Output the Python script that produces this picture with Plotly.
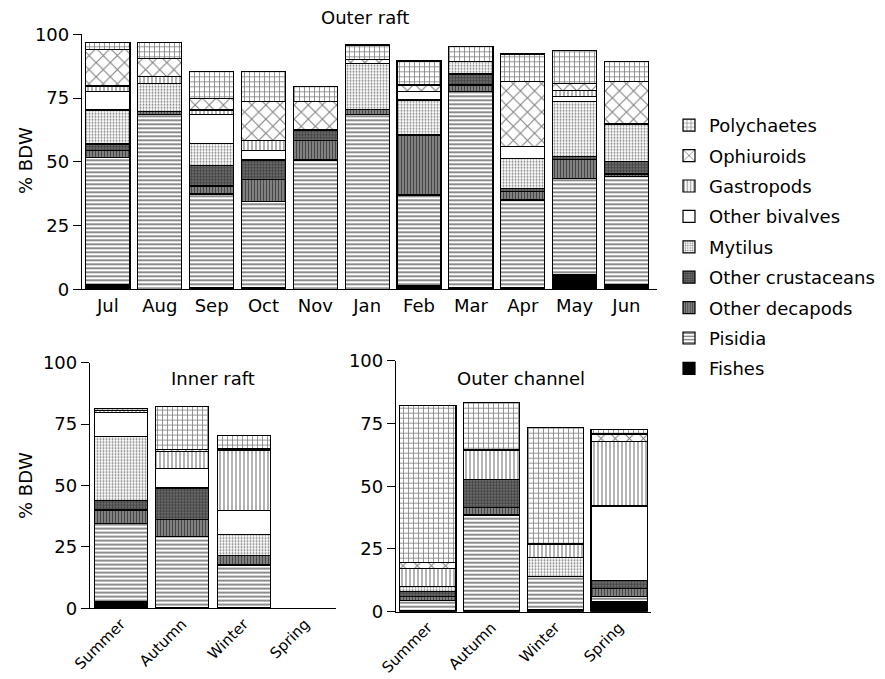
import plotly.graph_objects as go

months = ["Jul", "Aug", "Sep", "Oct", "Nov", "Jan", "Feb", "Mar", "Apr", "May", "Jun"]
seasons = ["Summer", "Autumn", "Winter", "Spring"]
groups = ["Fishes", "Pisidia", "Other decapods", "Other crustaceans", "Mytilus",
          "Other bivalves", "Gastropods", "Ophiuroids", "Polychaetes"]

# Outer raft (% BDW), per month
outer_raft = {
    "Fishes":            [1.7, 0.0, 0.5, 0.5, 0.0, 0.0, 1.5, 0.5, 0.5, 5.6, 1.7],
    "Pisidia":           [49.9, 68.5, 36.9, 33.9, 50.7, 68.4, 35.5, 77.0, 34.5, 37.9, 42.5],
    "Other decapods":    [2.8, 1.2, 3.1, 8.7, 7.8, 2.2, 23.5, 2.6, 3.3, 7.5, 1.0],
    "Other crustaceans": [2.6, 0.0, 8.2, 7.6, 4.0, 0.0, 0.0, 4.3, 1.3, 1.0, 4.8],
    "Mytilus":           [13.3, 11.1, 8.6, 0.0, 0.0, 18.0, 13.7, 4.8, 11.8, 21.6, 14.8],
    "Other bivalves":    [7.2, 0.0, 11.1, 3.7, 0.0, 0.0, 3.3, 0.0, 4.5, 1.9, 0.0],
    "Gastropods":        [2.2, 2.8, 1.9, 3.9, 0.0, 0.0, 0.0, 0.0, 0.0, 2.4, 0.0],
    "Ophiuroids":        [14.4, 7.0, 4.6, 15.3, 11.1, 1.6, 2.6, 0.0, 25.5, 2.9, 16.6],
    "Polychaetes":       [2.6, 6.1, 10.4, 11.7, 5.9, 5.6, 9.4, 5.9, 10.9, 13.0, 7.9],
}

# Inner raft (% BDW), per season
inner_raft = {
    "Fishes":            [2.7, 0.3, 0.3, 0.0],
    "Pisidia":           [31.9, 28.8, 17.3, 0.0],
    "Other decapods":    [5.4, 7.1, 3.8, 0.0],
    "Other crustaceans": [3.8, 12.8, 0.0, 0.0],
    "Mytilus":           [26.0, 0.0, 8.6, 0.0],
    "Other bivalves":    [9.8, 7.9, 9.7, 0.0],
    "Gastropods":        [1.0, 7.0, 24.7, 0.0],
    "Ophiuroids":        [0.0, 0.6, 0.6, 0.0],
    "Polychaetes":       [0.7, 17.5, 5.2, 0.0],
}

# Outer channel (% BDW), per season
outer_channel = {
    "Fishes":            [0.5, 0.5, 1.0, 4.0],
    "Pisidia":           [4.0, 38.0, 13.0, 2.0],
    "Other decapods":    [1.5, 3.1, 0.0, 3.3],
    "Other crustaceans": [2.0, 11.1, 0.0, 3.1],
    "Mytilus":           [2.0, 0.0, 7.7, 0.0],
    "Other bivalves":    [0.0, 0.0, 0.0, 29.7],
    "Gastropods":        [7.3, 11.7, 5.3, 25.6],
    "Ophiuroids":        [2.2, 0.0, 0.0, 3.1],
    "Polychaetes":       [62.5, 18.9, 46.3, 1.9],
}

styles = {
    "Fishes":            dict(color="black", shape="", bg="black", size=8, sol=0.3),
    "Pisidia":           dict(color="white", shape="-", bg="white", size=4, sol=0.45),
    "Other decapods":    dict(color="#8c8c8c", shape="|", bg="#8c8c8c", size=3, sol=0.45),
    "Other crustaceans": dict(color="#7a7a7a", shape=".", bg="#7a7a7a", size=3, sol=0.55),
    "Mytilus":           dict(color="white", shape=".", bg="white", size=3, sol=0.35),
    "Other bivalves":    dict(color="white", shape="", bg="white", size=8, sol=0.3),
    "Gastropods":        dict(color="white", shape="|", bg="white", size=4, sol=0.3),
    "Ophiuroids":        dict(color="white", shape="x", bg="white", size=10, sol=0.2),
    "Polychaetes":       dict(color="white", shape="+", bg="white", size=5, sol=0.3),
}

FONT = "DejaVu Sans, Liberation Sans, Arial, sans-serif"
FS = 18
fig = go.Figure()

panels = [
    (months, outer_raft, "x", "y", 0.85),
    (seasons, inner_raft, "x2", "y2", 0.866),
    (seasons, outer_channel, "x3", "y3", 0.88),
]

for pi, (cats, data, xa, ya, w) in enumerate(panels):
    for gi, g in enumerate(groups):
        s = styles[g]
        pat = dict(shape=s["shape"], fgcolor="black", bgcolor=s["bg"],
                   size=s["size"], solidity=s["sol"], fillmode="overlay")
        fig.add_trace(go.Bar(
            x=cats, y=data[g], name=g, xaxis=xa, yaxis=ya, width=w,
            marker=dict(color=s["color"], line=dict(color="black", width=1.2), pattern=pat),
            showlegend=(pi == 0), legendgroup=g, legendrank=100 - gi,
        ))

axis_common = dict(showline=True, linecolor="black", linewidth=1.3, showgrid=False,
                   zeroline=False, automargin=False,
                   tickfont=dict(family=FONT, size=FS, color="black"))
yax_common = dict(axis_common, range=[0, 100], tickvals=[0, 25, 50, 75, 100],
                  ticks="outside", ticklen=8, tickwidth=1.3, tickcolor="black")
rot_font = dict(family=FONT, size=15, color="black")

H = 679.0
W = 885.0


def ann(text, x, y, angle=0):
    return dict(text=text, x=x / W, y=1 - y / H, xref="paper", yref="paper",
                xanchor="center", yanchor="middle", showarrow=False, textangle=angle,
                font=dict(family=FONT, size=FS))


fig.update_layout(
    template="none",
    width=885, height=679,
    margin=dict(l=0, r=0, t=0, b=0, pad=0),
    paper_bgcolor="white", plot_bgcolor="white",
    barmode="stack",
    font=dict(family=FONT, size=FS, color="black"),
    xaxis=dict(axis_common, domain=[82 / W, 657 / W], range=[-0.5, 10.59], anchor="y",
               ticks=""),
    yaxis=dict(yax_common, domain=[(H - 289.3) / H, (H - 34.3) / H], anchor="x"),
    xaxis2=dict(axis_common, domain=[90 / W, 336 / W], range=[-0.5, 3.5], anchor="y2",
                ticks="", tickangle=-45, tickfont=rot_font),
    yaxis2=dict(yax_common, domain=[(H - 608.3) / H, (H - 362.6) / H], anchor="x2"),
    xaxis3=dict(axis_common, domain=[396 / W, 651 / W], range=[-0.5, 3.5], anchor="y3",
                ticks="", tickangle=-45, tickfont=rot_font),
    yaxis3=dict(yax_common, domain=[(H - 611.7) / H, (H - 360.7) / H], anchor="x3"),
    legend=dict(x=669 / W, y=1 - 107 / H, xanchor="left", yanchor="top",
                traceorder="grouped", tracegroupgap=4,
                font=dict(family=FONT, size=FS, color="black"),
                bgcolor="rgba(0,0,0,0)"),
    annotations=[
        ann("Outer raft", 365, 17),
        ann("Inner raft", 213, 378),
        ann("Outer channel", 521, 378),
        ann("% BDW", 25, 161, -90),
        ann("% BDW", 25, 486, -90),
    ],
)

fig.write_html("out.html", config={"displayModeBar": False},
               post_script="document.body.style.margin='0';")
